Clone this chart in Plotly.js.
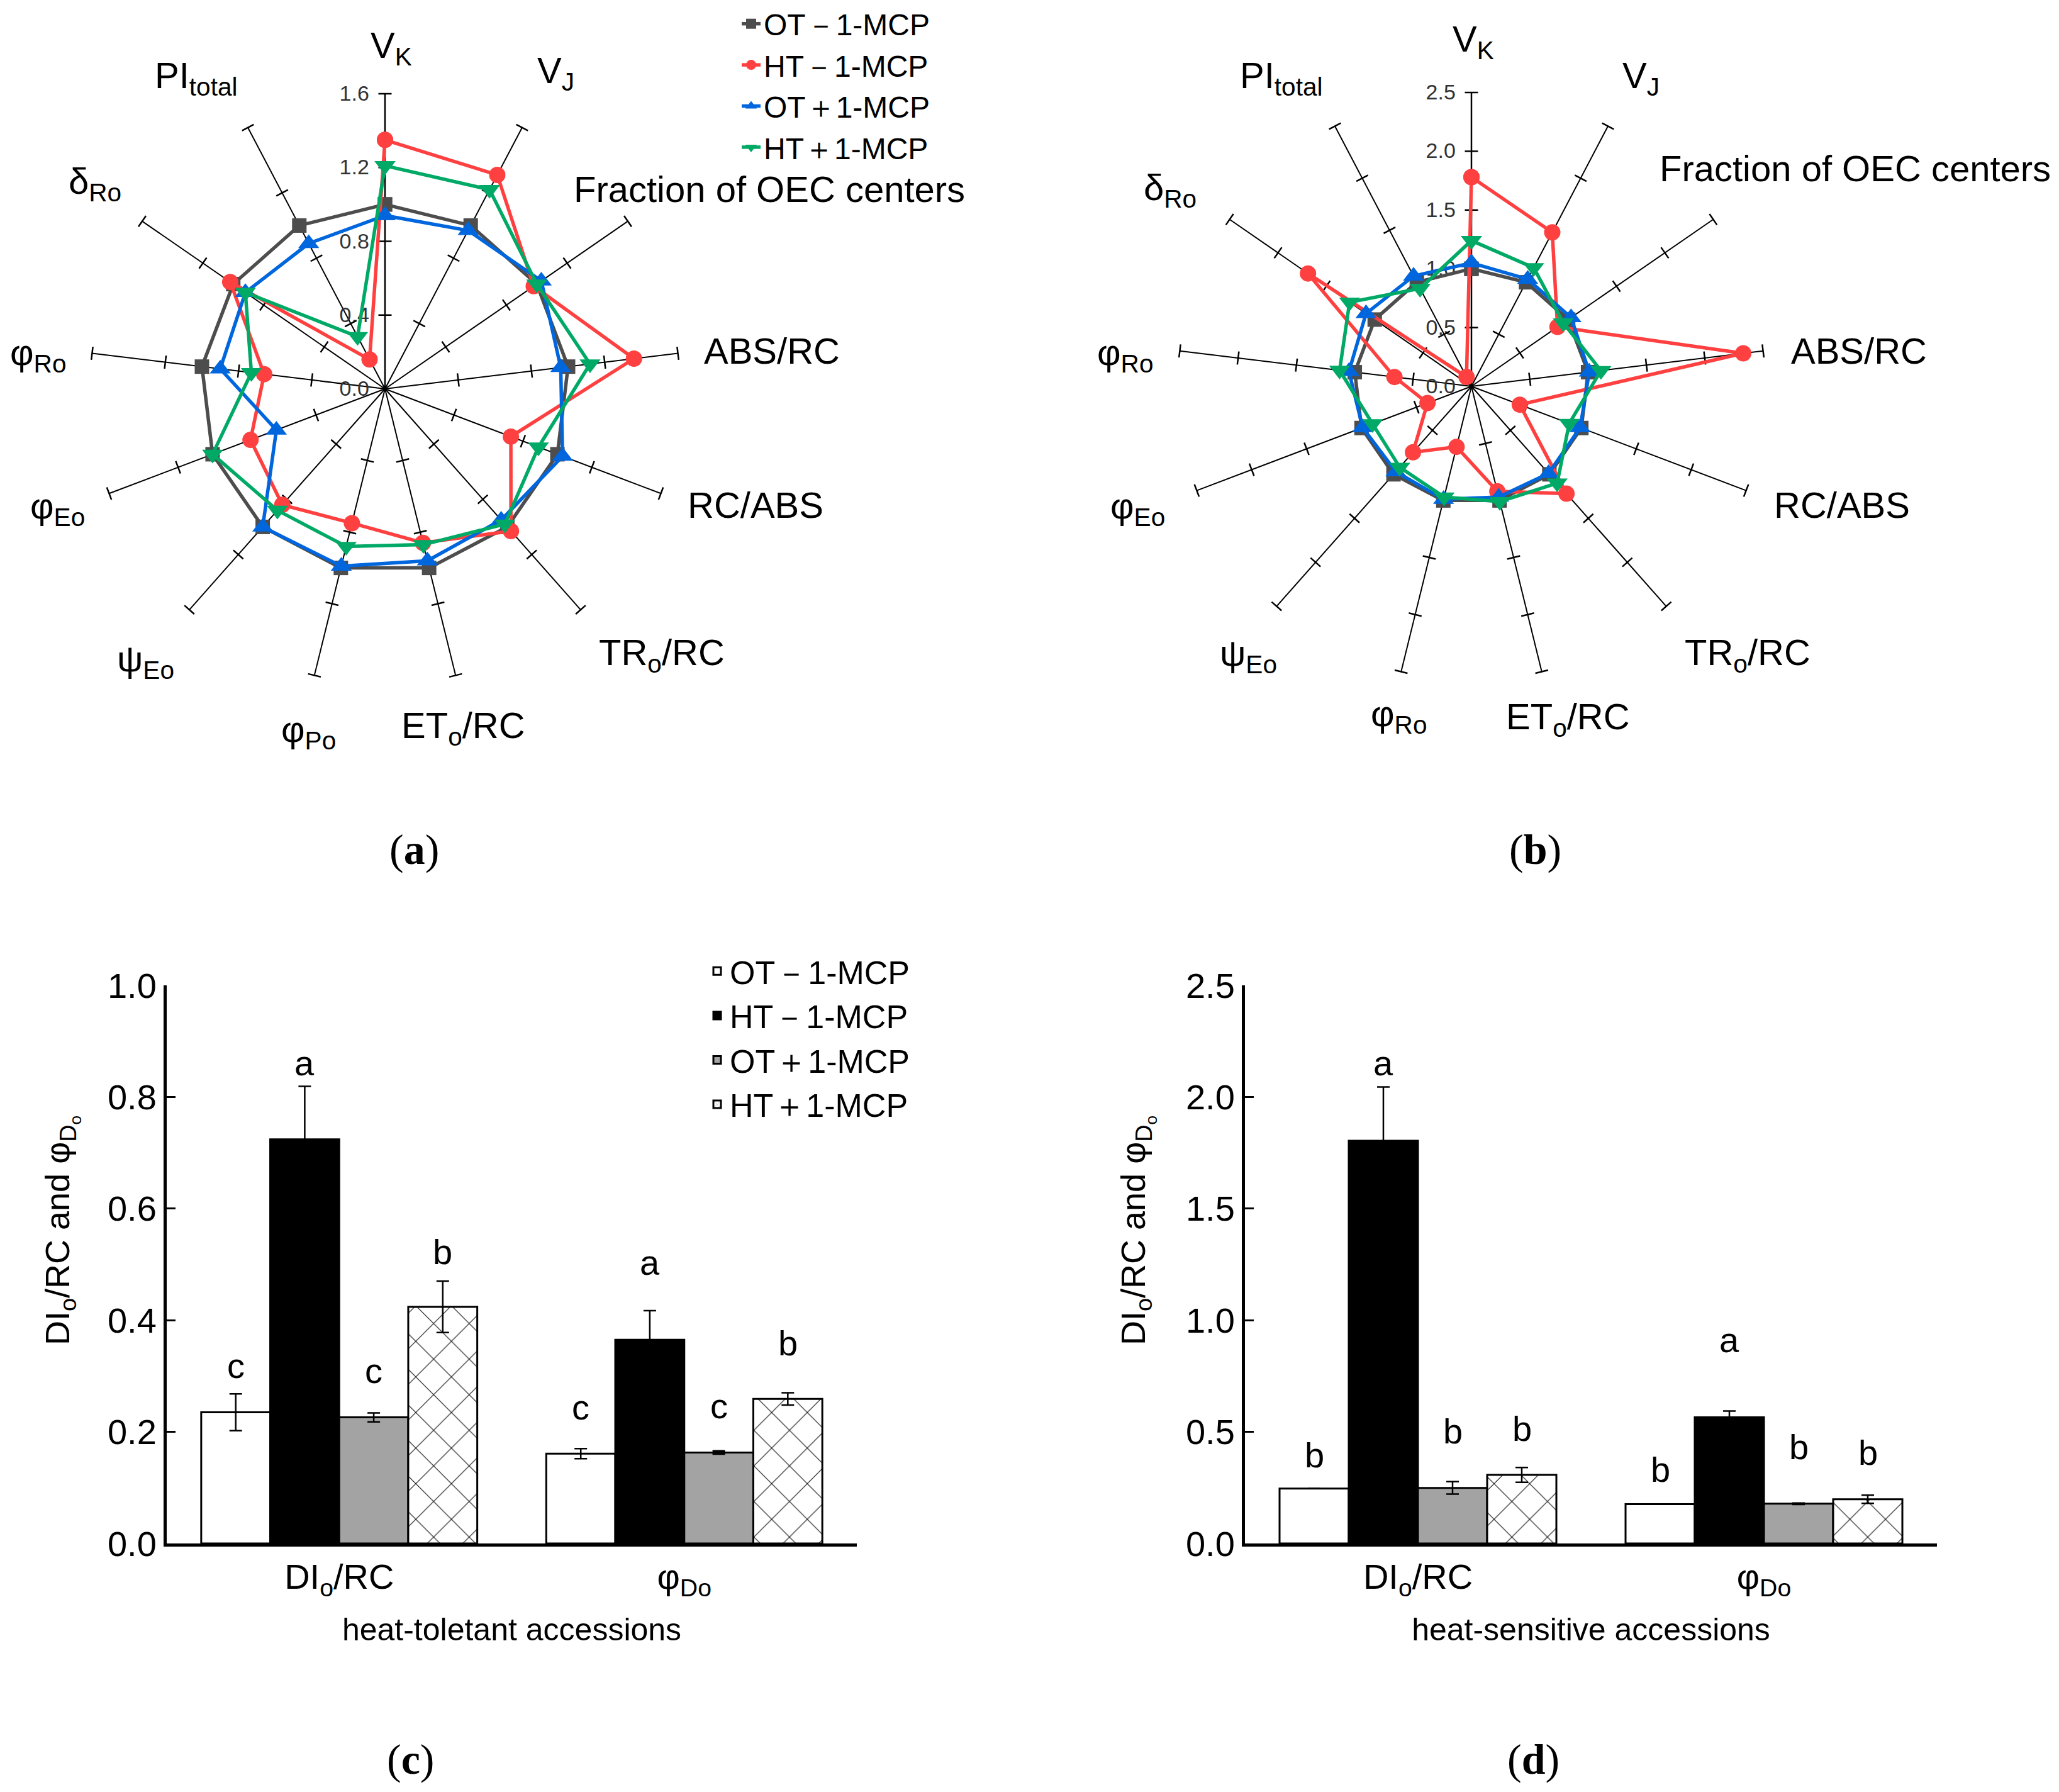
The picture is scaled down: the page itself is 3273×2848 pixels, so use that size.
<!DOCTYPE html>
<html><head><meta charset="utf-8">
<script src="https://cdn.plot.ly/plotly-3.0.1.min.js"></script>
<style>html,body{margin:0;padding:0;background:#fff}#chart{width:3273px;height:2848px}</style>
</head><body><div id="chart"></div>
<script>
const W = 3273, H = 2848;

// ---------- data ----------
const seriesNames = ['OT－1-MCP', 'HT－1-MCP', 'OT＋1-MCP', 'HT＋1-MCP'];

const radarLabelsA = ['V<sub>K</sub>', 'V<sub>J</sub>', 'Fraction of OEC centers', 'ABS/RC', 'RC/ABS',
  'TR<sub>o</sub>/RC', 'ET<sub>o</sub>/RC', 'φ<sub>Po</sub>', 'ψ<sub>Eo</sub>', 'φ<sub>Eo</sub>',
  'φ<sub>Ro</sub>', 'δ<sub>Ro</sub>', 'PI<sub>total</sub>'];
const radarLabelsB = ['V<sub>K</sub>', 'V<sub>J</sub>', 'Fraction of OEC centers', 'ABS/RC', 'RC/ABS',
  'TR<sub>o</sub>/RC', 'ET<sub>o</sub>/RC', 'φ<sub>Ro</sub>', 'ψ<sub>Eo</sub>', 'φ<sub>Eo</sub>',
  'φ<sub>Ro</sub>', 'δ<sub>Ro</sub>', 'PI<sub>total</sub>'];

const radialTicksA = [0, 0.4, 0.8, 1.2, 1.6];
const radialTicksB = [0, 0.5, 1.0, 1.5, 2.0, 2.5];

// panel (a) heat-tolerant
const OTminusA = [1.00, 1.00, 1.00, 1.00, 1.00, 1.00, 1.00, 1.00, 1.00, 1.00, 1.00, 1.00, 1.00];
const HTminusA = [1.35, 1.31, 0.98, 1.36, 0.73, 1.03, 0.86, 0.75, 0.84, 0.78, 0.66, 1.02, 0.18];
const OTplusA  = [0.94, 0.97, 1.03, 0.96, 1.03, 0.95, 0.96, 0.99, 1.00, 0.63, 0.90, 0.92, 0.89];
const HTplusA  = [1.21, 1.22, 1.00, 1.12, 0.89, 0.98, 0.87, 0.88, 0.88, 1.00, 0.73, 0.92, 0.32];

// panel (b) heat-sensitive
const OTminusB = [1.00, 1.00, 1.00, 1.00, 1.00, 1.00, 1.00, 1.00, 1.00, 1.00, 1.00, 1.00, 1.00];
const HTminusB = [1.78, 1.48, 0.89, 2.33, 0.44, 1.22, 0.92, 0.53, 0.75, 0.40, 0.66, 1.69, 0.09];
const OTplusB  = [1.05, 1.03, 1.03, 1.01, 0.99, 0.99, 0.97, 0.99, 0.97, 0.99, 1.05, 1.09, 1.06];
const HTplusB  = [1.24, 1.14, 0.95, 1.11, 0.89, 1.10, 1.01, 0.97, 0.92, 0.90, 1.13, 1.26, 0.94];

// bars
const barCats = ['DI<sub>o</sub>/RC', 'φ<sub>Do</sub>'];
const barC_OTminus = [0.235, 0.161], errC_OTminus = [0.033, 0.009];
const barC_HTminus = [0.724, 0.365], errC_HTminus = [0.095, 0.052];
const barC_OTplus  = [0.226, 0.163], errC_OTplus  = [0.008, 0.003];
const barC_HTplus  = [0.424, 0.259], errC_HTplus  = [0.046, 0.011];
const barD_OTminus = [0.246, 0.176], errD_OTminus = [0.000, 0.000];
const barD_HTminus = [1.804, 0.565], errD_HTminus = [0.241, 0.028];
const barD_OTplus  = [0.249, 0.178], errD_OTplus  = [0.028, 0.003];
const barD_HTplus  = [0.307, 0.198], errD_HTplus  = [0.033, 0.018];

// significance letters and their heights
const lettersC = [['c', 'c'], ['a', 'a'], ['c', 'c'], ['b', 'b']];
const letterYC = [[0.319, 0.244], [0.861, 0.503], [0.309, 0.246], [0.523, 0.359]];
const lettersD = [['b', 'b'], ['a', 'a'], ['b', 'b'], ['b', 'b']];
const letterYD = [[0.397, 0.332], [2.153, 0.912], [0.503, 0.432], [0.515, 0.407]];

const yTitle = 'DI<sub>o</sub>/RC and φ<sub>D<sub>o</sub></sub>';

// ---------- positions / styles ----------
const labelPosA = [[622,76],[883,116],[1223,300],[1227,557],[1201,803],[1052,1041],[736,1157],[490,1163],[231,1051],[91,808],[61,564],[151,292],[312,124]];
const labelPosB = [[2342,66],[2608,124],[2949,267],[2955,557],[2928,803],[2778,1041],[2492,1143],[2223,1138],[1985,1042],[1808,808],[1789,564],[1860,302],[2037,124]];

const FONT = 'Liberation Sans, Arial, sans-serif';
const lineStyles = [
  {color: '#4d4d4d', symbol: 'square', size: 23},
  {color: '#ff4040', symbol: 'circle', size: 26},
  {color: '#0066dd', symbol: 'triangle-up', size: 29},
  {color: '#00aa66', symbol: 'triangle-down', size: 29}
];
const barStyles = [
  {color: 'white'},
  {color: 'black'},
  {color: '#a3a3a3'},
  {color: 'white', pattern: {shape: 'x', fgcolor: 'black', bgcolor: 'white', size: 40, solidity: 0.05}}
];

const step = 360 / radarLabelsA.length;
const angles = radarLabelsA.map((_, i) => i * step);
const closeLoop = a => a.concat([a[0]]);

const traces = [];

function spokeTicks(subplot, ticks) {
  const r = [], t = [], ang = [];
  angles.forEach(a => ticks.filter(v => v > 0).forEach(v => { r.push(v); t.push(a); ang.push(a); }));
  traces.push({type: 'scatterpolar', subplot, r, theta: t, mode: 'markers', showlegend: false, hoverinfo: 'skip',
    marker: {symbol: 'line-ew', size: 15, angle: ang, color: 'black', line: {color: 'black', width: 2.5}}});
}
spokeTicks('polar', radialTicksA);
spokeTicks('polar2', radialTicksB);

const radarA = [OTminusA, HTminusA, OTplusA, HTplusA];
const radarB = [OTminusB, HTminusB, OTplusB, HTplusB];
[[radarA, 'polar', true], [radarB, 'polar2', false]].forEach(([set, sp, leg]) => {
  set.forEach((vals, s) => {
    traces.push({type: 'scatterpolar', subplot: sp, name: seriesNames[s], legend: 'legend',
      showlegend: leg, r: closeLoop(vals), theta: closeLoop(angles), mode: 'lines+markers',
      line: {color: lineStyles[s].color, width: 5.5},
      marker: {symbol: lineStyles[s].symbol, size: lineStyles[s].size, color: lineStyles[s].color}});
  });
});

const barsC = [[barC_OTminus, errC_OTminus], [barC_HTminus, errC_HTminus], [barC_OTplus, errC_OTplus], [barC_HTplus, errC_HTplus]];
const barsD = [[barD_OTminus, errD_OTminus], [barD_HTminus, errD_HTminus], [barD_OTplus, errD_OTplus], [barD_HTplus, errD_HTplus]];
[[barsC, 'x', 'y', true], [barsD, 'x2', 'y2', false]].forEach(([set, xa, ya, leg]) => {
  set.forEach(([vals, errs], s) => {
    const m = {color: barStyles[s].color, line: {color: 'black', width: 3}};
    if (barStyles[s].pattern) m.pattern = barStyles[s].pattern;
    traces.push({type: 'bar', x: barCats, y: vals, name: seriesNames[s], xaxis: xa, yaxis: ya,
      legend: 'legend2', showlegend: leg, marker: m,
      error_y: {type: 'data', array: errs, visible: true, color: 'black', thickness: 2.5, width: 10}});
  });
});

// ---------- layout ----------
function polarLayout(cx, cy, R, range, ticks) {
  return {
    domain: {x: [(cx - R) / W, (cx + R) / W], y: [(H - cy - R) / H, (H - cy + R) / H]},
    bgcolor: 'rgba(0,0,0,0)',
    radialaxis: {range, tickmode: 'array', tickvals: ticks, tickformat: '.1f', angle: 90, tickangle: 90,
      side: 'counterclockwise', showline: true, linecolor: 'black', linewidth: 2.5, showgrid: false,
      ticks: 'outside', ticklen: 12, tickcolor: 'rgba(0,0,0,0)', layer: 'below traces',
      tickfont: {family: FONT, size: 34, color: '#333'}},
    angularaxis: {type: 'linear', thetaunit: 'degrees', rotation: 90, direction: 'clockwise',
      tickmode: 'array', tickvals: angles, showticklabels: false, ticks: '', showline: false,
      showgrid: true, gridcolor: 'black', gridwidth: 2.2, layer: 'below traces'}
  };
}

const annotations = [];
[[radarLabelsA, labelPosA], [radarLabelsB, labelPosB]].forEach(([labs, pos]) => {
  labs.forEach((t, i) => annotations.push({xref: 'paper', yref: 'paper', x: pos[i][0] / W, y: 1 - pos[i][1] / H,
    text: t, showarrow: false, xanchor: 'center', yanchor: 'middle', font: {family: FONT, size: 58, color: 'black'}}));
});
[[lettersC, letterYC, 'x', 'y'], [lettersD, letterYD, 'x2', 'y2']].forEach(([L, Y, xa, ya]) => {
  L.forEach((row, s) => row.forEach((t, k) => annotations.push({xref: xa, yref: ya, x: k + (s - 1.5) * 0.2, y: Y[s][k],
    text: t, showarrow: false, xanchor: 'center', yanchor: 'middle', font: {family: FONT, size: 56, color: 'black'}})));
});
const panelLabels = [['(<b>a</b>)', 658, 1350], ['(<b>b</b>)', 2440, 1350], ['(<b>c</b>)', 653, 2796], ['(<b>d</b>)', 2437, 2796]];
panelLabels.forEach(([t, x, y]) => annotations.push({xref: 'paper', yref: 'paper', x: x / W, y: 1 - y / H, text: t,
  showarrow: false, xanchor: 'center', yanchor: 'middle', font: {family: 'Liberation Serif, Times New Roman, serif', size: 68, color: 'black'}}));
[[98, 1956], [1808, 1956]].forEach(([x, y]) => annotations.push({xref: 'paper', yref: 'paper', x: x / W, y: 1 - y / H,
  text: yTitle, textangle: -90, showarrow: false, xanchor: 'center', yanchor: 'middle',
  font: {family: FONT, size: 54, color: 'black'}}));

function xAxis(d0, d1, anchor, title) {
  return {domain: [d0 / W, d1 / W], anchor, range: [-0.5, 1.5], showline: true, linecolor: 'black', linewidth: 5,
    ticks: '', showgrid: false, zeroline: false, tickfont: {family: FONT, size: 56, color: 'black'},
    title: {text: title, font: {family: FONT, size: 50, color: 'black'}, standoff: 30}};
}
function yAxis(anchor, range, dtick) {
  return {domain: [(H - 2453) / H, (H - 1566) / H], anchor, range, dtick, tickformat: '.1f', showline: true,
    linecolor: 'black', linewidth: 5, ticks: 'inside', ticklen: 14, tickwidth: 3, tickcolor: 'black',
    showgrid: false, zeroline: false, tickfont: {family: FONT, size: 56, color: 'black'}};
}

const layout = {
  width: W, height: H, margin: {l: 0, r: 0, t: 0, b: 0}, paper_bgcolor: 'white', plot_bgcolor: 'white',
  font: {family: FONT, color: 'black'},
  polar: polarLayout(612, 618, 469, [0, 1.6], radialTicksA),
  polar2: polarLayout(2339, 614, 467, [0, 2.5], radialTicksB),
  xaxis: xAxis(265, 1362, 'y', 'heat-toletant accessions'),
  yaxis: yAxis('x', [0, 1.0], 0.2),
  xaxis2: xAxis(1979, 3079, 'y2', 'heat-sensitive accessions'),
  yaxis2: yAxis('x2', [0, 2.5], 0.5),
  barmode: 'group', bargap: 0.2, bargroupgap: 0,
  legend: {x: 1174 / W, y: 1, xanchor: 'left', yanchor: 'top', bgcolor: 'rgba(0,0,0,0)', traceorder: 'normal',
    font: {family: FONT, size: 48, color: 'black'}},
  legend2: {x: 1120 / W, y: 1 - 1503 / H, xanchor: 'left', yanchor: 'top', bgcolor: 'rgba(0,0,0,0)', traceorder: 'normal',
    font: {family: FONT, size: 52, color: 'black'}},
  annotations
};

Plotly.newPlot('chart', traces, layout, {displayModeBar: false, responsive: false});
</script>
</body></html>
